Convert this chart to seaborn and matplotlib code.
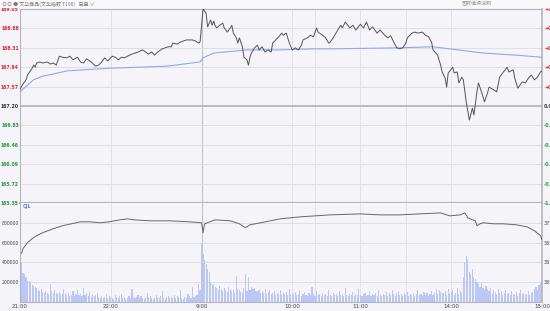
import numpy as np
import pandas as pd
import matplotlib
matplotlib.use("Agg")
import matplotlib.pyplot as plt
from matplotlib.patches import Rectangle
import seaborn as sns

# ---------------- data ----------------
tick_pos = [0, 60, 120, 180, 225, 285, 345]
tick_labels = ["21:00", "22:00", "9:00", "10:00", "11:00", "14:00", "15:00"]
break_pos = [195, 255]

pre_close = 167.20
price_ticks = [169.05, 168.68, 168.31, 167.94, 167.57, 167.20,
               166.83, 166.46, 166.09, 165.72, 165.35]
pct_labels = ["+1.11%", "+0.89%", "+0.66%", "+0.44%", "+0.22%", "0.00%",
              "-0.22%", "-0.44%", "-0.66%", "-0.89%", "-1.11%"]

price_min = [0, 2, 4, 5, 8, 9, 10, 11, 13, 15, 18, 20, 22, 24, 26, 28, 31, 33, 35, 38,
             40, 42, 44, 47, 50, 52, 54, 56, 58, 61, 63, 65, 67, 69, 71, 74, 76, 78, 81, 83,
             85, 87, 89, 91, 94, 96, 98, 100, 101, 104, 106, 108, 110, 114, 116, 118, 119,
             121, 123, 124, 126, 127, 128, 129, 130, 132, 134, 135, 137, 139, 140, 141, 143,
             144, 145, 147, 148, 150, 151, 152, 153, 155, 157, 158, 160, 162, 164, 166, 167,
             169, 171, 173, 174, 176, 178, 180, 182, 184, 186, 187, 190, 192, 194, 196, 197,
             200, 202, 204, 205, 207, 210, 212, 213, 215, 218, 220, 222, 225, 227, 229, 231,
             233, 236, 238, 241, 243, 245, 247, 249, 251, 253, 255, 256, 259, 261, 263, 266,
             268, 270, 272, 273, 276, 278, 279, 281, 282, 283, 286, 287, 289, 290, 292, 293,
             295, 297, 299, 300, 302, 303, 305, 307, 309, 310, 313, 315, 316, 317, 319, 322,
             323, 326, 327, 329, 332, 334, 336, 338, 340, 342, 344, 345]
price_val = [167.52, 167.62, 167.70, 167.79, 167.92, 167.98, 167.94, 168.02, 168.04, 168.02,
             168.04, 168.00, 168.02, 167.98, 168.15, 168.13, 168.12, 168.15, 168.08, 168.13,
             168.04, 168.02, 168.10, 168.04, 167.96, 167.98, 168.04, 168.12, 168.06, 168.15,
             168.13, 168.08, 168.13, 168.12, 168.15, 168.19, 168.21, 168.23, 168.27, 168.23,
             168.19, 168.23, 168.17, 168.23, 168.29, 168.31, 168.33, 168.33, 168.40, 168.38,
             168.42, 168.44, 168.46, 168.46, 168.44, 168.40, 168.42,
             169.05, 168.97, 168.71, 168.84, 168.74, 168.82, 168.73, 168.69, 168.74, 168.78,
             168.69, 168.61, 168.69, 168.74, 168.59, 168.50, 168.40, 168.50, 168.33, 168.13,
             168.08, 167.98, 168.13, 168.21, 168.31, 168.36, 168.27, 168.33, 168.23, 168.27,
             168.23, 168.40, 168.46, 168.52, 168.59, 168.55, 168.59, 168.40, 168.27, 168.31,
             168.27, 168.36, 168.46, 168.50, 168.55, 168.52, 168.69, 168.61, 168.55, 168.50,
             168.40, 168.42, 168.50, 168.65, 168.74, 168.69, 168.80, 168.69, 168.74, 168.65,
             168.76, 168.69, 168.80, 168.65, 168.71, 168.59, 168.65, 168.55, 168.50, 168.54,
             168.42, 168.31, 168.29, 168.31, 168.40, 168.50, 168.59, 168.61, 168.59, 168.61,
             168.55, 168.52, 168.42, 168.27, 168.17, 167.98, 167.85, 167.73, 167.56, 167.83,
             167.94, 167.83, 167.85, 167.64, 167.75, 167.70, 167.26, 166.93, 167.16, 167.03,
             167.47, 167.64, 167.47, 167.28, 167.45, 167.56, 167.51, 167.47, 167.60, 167.75,
             167.83, 167.94, 167.85, 167.89, 167.73, 167.54, 167.66, 167.64, 167.73, 167.79,
             167.70, 167.75, 167.85, 167.87]

avg_min = [0, 5, 9, 15, 22, 31, 42, 59, 79, 97, 119, 121, 128, 150, 172, 194, 205,
           251, 273, 284, 306, 328, 345]
avg_val = [167.47, 167.60, 167.70, 167.77, 167.81, 167.87, 167.89, 167.92, 167.94, 167.96,
           168.04, 168.12, 168.21, 168.27, 168.27, 168.29, 168.29, 168.31, 168.33, 168.29,
           168.21, 168.17, 168.13]

vol_k = [
    740, 400, 290, 285, 250, 215, 210, 200, 175, 165, 150, 140, 120, 110, 130, 100, 95, 115, 90, 85,
    180, 110, 95, 120, 90, 80, 100, 70, 85, 130, 90, 75, 95, 60, 70, 110, 65, 80, 120, 70,
    85, 60, 140, 75, 95, 65, 100, 55, 80, 60, 70, 90, 50, 45, 65, 40, 55, 85, 45, 60,
    50, 40, 35, 70, 55, 45, 60, 80, 40, 50, 35, 45, 60, 40, 130, 55, 45, 50, 70, 40,
    60, 45, 35, 55, 90, 50, 65, 40, 30, 45, 70, 55, 40, 60, 110, 45, 35, 50, 65, 40,
    55, 45, 70, 40, 60, 50, 120, 45, 35, 55, 40, 80, 60, 45, 150, 55, 65, 70, 180, 120,
    600, 480, 420, 380, 330, 300, 200, 170, 180, 150, 140, 120, 160, 130, 110, 140, 120, 100, 150, 130,
    110, 125, 95, 260, 130, 120, 105, 90, 140, 280, 115, 250, 120, 150, 130, 140, 110, 100, 125, 95,
    110, 90, 130, 85, 100, 120, 80, 95, 110, 75, 90, 85, 120, 70, 95, 80, 100, 70, 130, 85,
    75, 90, 105, 70, 80, 120, 65, 85, 100, 70, 60, 95, 75, 150, 80, 65, 110, 70, 85, 60,
    95, 70, 80, 65, 125, 75, 60, 90, 70, 85, 60, 115, 70, 80, 65, 140, 75, 60, 85, 70,
    100, 65, 80, 70, 130, 75, 60, 85, 95, 65, 75, 110, 60, 80, 70, 90, 65, 125, 70, 60,
    85, 75, 100, 65, 90, 70, 120, 80, 65, 95, 110, 70, 80, 65, 90, 75, 100, 60, 85, 70,
    95, 65, 80, 120, 70, 85, 60, 100, 75, 90, 65, 80, 110, 70, 95, 130, 85, 120, 100, 90,
    90, 110, 75, 130, 85, 100, 120, 70, 95, 140, 80, 110, 90, 250, 400, 460, 430, 300, 280, 330,
    250, 230, 200, 180, 150, 190, 140, 120, 160, 130, 110, 140, 95, 120, 100, 85, 130, 90, 110, 75,
    90, 120, 80, 95, 70, 110, 85, 75, 100, 65, 90, 120, 80, 95, 70, 85, 110, 75, 90, 100,
    130, 150, 120, 170, 190, 210]

oi_min = [1, 2, 5, 8, 11, 15, 22, 28, 34, 40, 46, 53, 59, 66, 71, 75, 86, 99, 112, 120,
          121, 122, 129, 139, 145, 149, 152, 159, 172, 185, 205, 225, 238, 251, 264, 278,
          284, 291, 294, 296, 299, 301, 302, 304, 306, 313, 319, 328, 335, 340, 344, 345]
oi_val = [367900, 368400, 369000, 369400, 369700, 370000, 370400, 370700, 370900, 371100,
          371100, 371000, 371100, 371300, 371400, 371300, 371200, 371200, 371100, 371000,
          370000, 370900, 371300, 371200, 370900, 370500, 370800, 371000, 371400, 371600,
          371800, 371900, 371800, 371800, 371900, 372000, 371700, 371800, 372000, 371500,
          371300, 371200, 370700, 370900, 371000, 370900, 370900, 370800, 370600, 370200,
          369700, 369300]

vol_ticks = [200000, 400000, 600000, 800000]
oi_ticks = [365000, 367000, 369000, 371000]

# ---------------- style ----------------
sns.set_theme(style="white")
plt.rcParams['font.family'] = ['Noto Sans CJK SC', 'DejaVu Sans']

BG = "#f4f4f9"
GRID = "#dedee6"
SEP = "#b4b4bc"
RED = "#e0262b"
GREEN = "#27963a"
DARK = "#333333"
LFS = 3.3

W, H = 550, 311
fig = plt.figure(figsize=(W / 100, H / 100), dpi=100, facecolor=BG)

def fx(px):
    return px / W

def fy(py):
    return 1 - py / H

ax1 = fig.add_axes([fx(20), fy(203), fx(522), 194 / H], facecolor=BG)
ax2 = fig.add_axes([fx(20), fy(302), fx(522), 99 / H], facecolor=BG)

# header band
fig.patches.append(Rectangle((0, fy(8)), 1, 8 / H, transform=fig.transFigure,
                             facecolor="#f9f9fb", edgecolor="none", zorder=0))
fig.text(fx(2), fy(4), "⊙⊙ ● 文华商品(文华指数 T190)   日盘 ∨", fontsize=3.6,
         color="#777777", va="center", ha="left",
         family=['Noto Sans CJK SC', 'DejaVu Sans'])
fig.text(fx(462), fy(4), "图数编辑说明", fontsize=3.6, color="#999999",
         va="center", ha="left", family=['Noto Sans CJK SC', 'DejaVu Sans'])

price_df = pd.DataFrame({"m": price_min, "p": price_val})
avg_df = pd.DataFrame({"m": avg_min, "p": avg_val})
vol = np.array(vol_k) * 1000
vol_x = np.arange(len(vol))
oi_df = pd.DataFrame({"m": oi_min, "v": oi_val})

# ---------------- common frame ----------------
xlim = (0, 345)
for ax in (ax1, ax2):
    ax.set_xlim(*xlim)
    for p in tick_pos[1:-1]:
        lw, col = (0.8, "#c2c2ca") if p == 120 else (0.6, GRID)
        ax.axvline(p, color=col, lw=lw, zorder=0)
    for p in break_pos:
        ax.axvline(p, color=GRID, lw=0.6, zorder=0)
    for s in ax.spines.values():
        s.set_color(SEP)
        s.set_linewidth(0.8)
    ax.spines["right"].set_linewidth(1.2)

# ---------------- price panel ----------------
ylo, yhi = price_ticks[-1] - 0.0005, price_ticks[0] + 0.0005
ax1.set_ylim(ylo, yhi)
for t in price_ticks[1:-1]:
    if abs(t - pre_close) < 1e-6:
        ax1.axhline(t, color=SEP, lw=1.3, zorder=1)
    else:
        ax1.axhline(t, color=GRID, lw=0.7, zorder=0)
ax1.spines["bottom"].set_linewidth(1.6)

sns.lineplot(data=avg_df, x="m", y="p", ax=ax1, color="#8fa8ee", lw=0.8,
             estimator=None, sort=False, zorder=3)
sns.lineplot(data=price_df, x="m", y="p", ax=ax1, color="#555555", lw=0.7,
             estimator=None, sort=False, zorder=4)

ax1.set_yticks(price_ticks)
ax1.set_yticklabels([f"{t:.2f}" for t in price_ticks])
ax1.tick_params(axis="y", length=0, pad=0.8, labelsize=LFS)
for lab, t in zip(ax1.get_yticklabels(), price_ticks):
    lab.set_fontweight("bold")
    lab.set_family("DejaVu Sans")
    lab.set_color(RED if t > pre_close + 1e-6 else (GREEN if t < pre_close - 1e-6 else DARK))
ax1.set_xticks([])
ax1.set_xlabel("")
ax1.set_ylabel("")

ax1r = ax1.twinx()
ax1r.set_ylim(ylo, yhi)
ax1r.set_yticks(price_ticks)
ax1r.set_yticklabels(pct_labels)
ax1r.tick_params(axis="y", length=0, pad=1.5, labelsize=3.6)
for lab, t in zip(ax1r.get_yticklabels(), price_ticks):
    lab.set_fontweight("bold")
    lab.set_family("DejaVu Sans")
    lab.set_color(RED if t > pre_close + 1e-6 else (GREEN if t < pre_close - 1e-6 else DARK))
for s in ax1r.spines.values():
    s.set_visible(False)

# ---------------- volume / open interest panel ----------------
ax2.set_ylim(0, 1000000)
for t in vol_ticks:
    ax2.axhline(t, color=GRID, lw=0.7, zorder=0)
ax2.bar(vol_x, vol, width=0.75, color="#bcc7f5", edgecolor="none", zorder=2)
ax2.set_yticks(vol_ticks)
ax2.set_yticklabels([str(t) for t in vol_ticks])
ax2.tick_params(axis="y", length=0, pad=0.8, labelsize=LFS, labelcolor="#444444")
ax2.set_xticks(tick_pos)
ax2.set_xticklabels(tick_labels)
ax2.tick_params(axis="x", length=0, pad=1.2, labelsize=4.0, labelcolor="#444444")
for lab in ax2.get_xticklabels() + ax2.get_yticklabels():
    lab.set_family("DejaVu Sans")
ax2.spines["top"].set_visible(False)
ax2.text(2, 985000, "CJL", fontsize=3.6, color="#5b7be0", va="top", ha="left",
         family="DejaVu Sans", fontweight="bold")

ax2r = ax2.twinx()
ax2r.set_ylim(363000, 373000)
sns.lineplot(data=oi_df, x="m", y="v", ax=ax2r, color="#666666", lw=0.7,
             estimator=None, sort=False, zorder=4)
ax2r.set_yticks(oi_ticks)
ax2r.set_yticklabels([str(t) for t in oi_ticks])
ax2r.tick_params(axis="y", length=0, pad=1.5, labelsize=3.6, labelcolor="#444444")
for lab in ax2r.get_yticklabels():
    lab.set_family("DejaVu Sans")
ax2r.set_ylabel("")
ax2r.set_xlabel("")
for s in ax2r.spines.values():
    s.set_visible(False)
ax2.set_xlabel("")
ax2.set_ylabel("")

fig.savefig("out.png", dpi=100, facecolor=BG)
